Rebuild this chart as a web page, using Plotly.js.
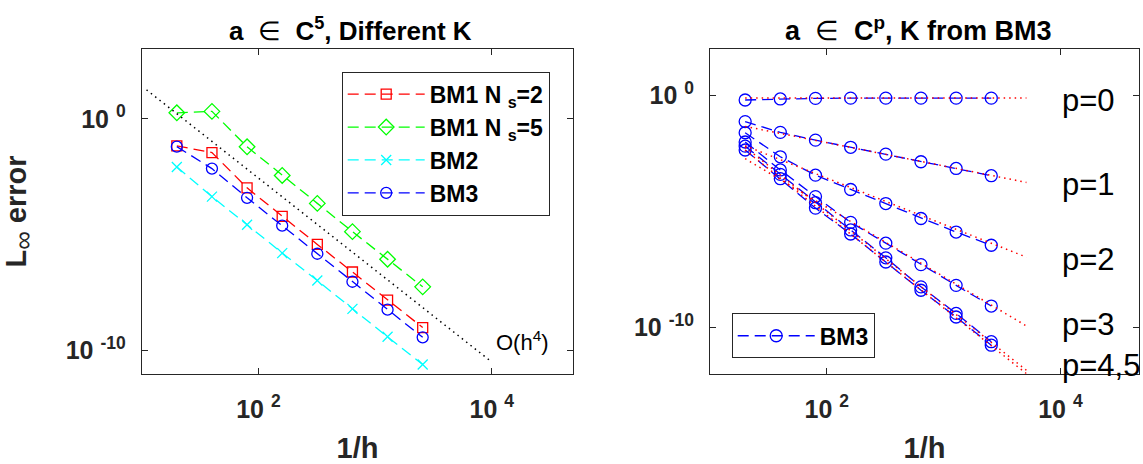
<!DOCTYPE html>
<html><head><meta charset="utf-8">
<script src="https://cdn.plot.ly/plotly-3.0.1.min.js"></script>
<style>html,body{margin:0;padding:0;background:#fff}#chart{width:1143px;height:464px}</style>
</head><body><div id="chart"></div>
<script>
// ---- data ----
const invH = [20, 40, 80, 160, 320, 640, 1280, 2560];

// left panel: a in C^5, different K
const bm1Ns2 = [6.8e-2, 3.5e-2, 1.05e-3, 6.2e-5, 3.8e-6, 2.45e-7, 1.5e-8, 9.8e-10];
const bm1Ns5 = [1.82, 2.09, 6.2e-2, 3.6e-3, 2.24e-4, 1.35e-5, 8.7e-7, 5.6e-8];
const bm2    = [8.3e-3, 4.4e-4, 2.7e-5, 1.6e-6, 1.05e-7, 6.3e-9, 3.9e-10, 2.5e-11];
const bm3    = [6.3e-2, 7.1e-3, 3.9e-4, 2.45e-5, 1.5e-6, 9.3e-8, 5.8e-9, 3.7e-10];
const refH4X = [11, 10000];
const refH4Y = [17.8, 3.2e-11];

// right panel: a in C^p, K from BM3
const bm3P0 = [0.65, 0.72, 0.76, 0.78, 0.78, 0.78, 0.78, 0.78];
const bm3P1 = [7.6e-2, 2.6e-2, 1.2e-2, 5.9e-3, 3.0e-3, 1.4e-3, 7.2e-4, 3.5e-4];
const bm3P2 = [2.5e-2, 2.3e-3, 3.7e-4, 8.9e-5, 2.2e-5, 5.0e-6, 1.3e-6, 3.5e-7];
const bm3P3 = [1.0e-2, 6.2e-4, 4.4e-5, 3.4e-6, 4.3e-7, 5.1e-8, 6.5e-9, 8.3e-10];
const bm3P4 = [6.6e-3, 4.0e-4, 2.4e-5, 1.6e-6, 1.0e-7, 5.6e-9, 4.0e-10, 2.4e-11];
const bm3P5 = [4.5e-3, 2.6e-4, 1.4e-5, 1.07e-6, 6.6e-8, 4.0e-9, 2.8e-10, 1.7e-11];
const rateX  = [20, 5120];
const rateP0 = [0.79, 0.79];
const rateP1 = [4.7e-2, 1.8e-4];
const rateP2 = [6.9e-3, 1.07e-7];
const rateP3 = [1.9e-3, 1.15e-10];
const rateP4 = [6.0e-3, 1.4e-12];
const rateP5 = [4.4e-3, 1.0e-12];
const pLabels = ['p=0', 'p=1', 'p=2', 'p=3', 'p=4,5'];

// ---- layout helpers (pixel geometry) ----
const W = 1143, H = 464;
const px = v => v / W, py = v => (H - v) / H;
const FONT = '"Liberation Sans", Arial, Helvetica, sans-serif';
const AX = '#262626';
const DASH = '11px,6px';
const DOT = '1.5px,4px';

const traces = [];
function series(x, y, color, symbol, size, name, xa, ya, legend, show) {
  traces.push({
    x: x, y: y, xaxis: xa, yaxis: ya, type: 'scatter', mode: 'lines+markers',
    name: name, legend: legend, showlegend: show,
    line: {color: color, width: 1.3, dash: DASH},
    marker: {symbol: symbol, size: size, color: color, line: {color: color, width: 1.3}}
  });
}
series(invH, bm1Ns2, '#ff0000', 'square-open', 10, 'BM1 N <sub>s</sub>=2', 'x', 'y', 'legend', true);
series(invH, bm1Ns5, '#00ff00', 'diamond-open', 12, 'BM1 N <sub>s</sub>=5', 'x', 'y', 'legend', true);
series(invH, bm2, '#00ffff', 'x-thin-open', 10, 'BM2', 'x', 'y', 'legend', true);
series(invH, bm3, '#0000ff', 'circle-open', 11, 'BM3', 'x', 'y', 'legend', true);
traces.push({x: refH4X, y: refH4Y, xaxis: 'x', yaxis: 'y', mode: 'lines', showlegend: false,
  line: {color: '#000000', width: 1.5, dash: DOT}, hoverinfo: 'skip'});

[bm3P0, bm3P1, bm3P2, bm3P3, bm3P4, bm3P5].forEach((s, i) =>
  series(invH, s, '#0000ff', 'circle-open', 12, 'BM3', 'x2', 'y2', 'legend2', i === 0));
[rateP0, rateP1, rateP2, rateP3, rateP4, rateP5].forEach(s =>
  traces.push({x: rateX, y: s, xaxis: 'x2', yaxis: 'y2', mode: 'lines', showlegend: false,
    line: {color: '#ff0000', width: 1.5, dash: DOT}, hoverinfo: 'skip'}));

function xax(domain, range) {
  return {
    type: 'log', domain: domain, range: range,
    tickvals: [100, 10000], ticktext: ['10 <sup>2</sup>', '10 <sup>4</sup>'],
    ticks: 'inside', ticklen: 6, tickcolor: AX, tickwidth: 1,
    showline: true, linecolor: AX, linewidth: 1, mirror: 'ticks',
    showgrid: false, zeroline: false, ticklabelstandoff: 13,
    tickfont: {family: FONT, size: 25, color: AX, weight: 'bold'},
    title: {text: '1/h', standoff: 17, font: {family: FONT, size: 29, color: AX, weight: 'bold'}}
  };
}
function yax(domain, range, anchor, title) {
  const a = {
    type: 'log', domain: domain, range: range, anchor: anchor,
    tickvals: [1, 1e-10], ticktext: ['10 <sup>0</sup>', '10 <sup>-10</sup>'],
    ticks: 'inside', ticklen: 6, tickcolor: AX, tickwidth: 1,
    showline: true, linecolor: AX, linewidth: 1, mirror: 'ticks',
    showgrid: false, zeroline: false, ticklabelstandoff: 10,
    tickfont: {family: FONT, size: 25, color: AX, weight: 'bold'}
  };
  if (title) a.title = {text: title, standoff: 40, font: {family: FONT, size: 29, color: AX, weight: 'bold'}};
  return a;
}
const yDom = [py(373.7), py(49.3)];
const x1 = xax([px(141.7), px(573.3)], [1, 4.699]);
const x2 = xax([px(710), px(1139)], [1, 1 + (1139 - 710) / 116.8]);
x2.anchor = 'y2'; x1.anchor = 'y';

const annotations = [
  {text: '<b>a</b>  ∈  <b>C<sup>5</sup>, Different K</b>', x: px(350), y: py(29), xref: 'paper', yref: 'paper',
   showarrow: false, xanchor: 'center', yanchor: 'middle', font: {family: FONT, size: 26, color: '#000'}},
  {text: '<b>a</b>  ∈  <b>C<sup>p</sup>, K from BM3</b>', x: px(918), y: py(29), xref: 'paper', yref: 'paper',
   showarrow: false, xanchor: 'center', yanchor: 'middle', font: {family: FONT, size: 27, color: '#000'}},
  {text: 'O(h<sup>4</sup>)', x: px(494), y: py(341), xref: 'paper', yref: 'paper',
   showarrow: false, xanchor: 'left', yanchor: 'middle', font: {family: FONT, size: 22, color: '#000'}}
];
const pY = [98.3, 182.5, 257.5, 322.5, 363.3];
pLabels.forEach((t, i) => annotations.push({
  text: t, x: px(1060), y: py(pY[i] + 2), xref: 'paper', yref: 'paper', showarrow: false,
  xanchor: 'left', yanchor: 'middle', font: {family: FONT, size: 31, color: '#000'}
}));

const legendBase = {
  xref: 'paper', yref: 'paper', xanchor: 'left', yanchor: 'top',
  bgcolor: '#ffffff', bordercolor: AX, borderwidth: 1, itemwidth: 77,
  font: {family: FONT, size: 23, color: '#000', weight: 'bold'}
};

const layout = {
  width: W, height: H, margin: {l: 0, r: 0, t: 0, b: 0},
  paper_bgcolor: '#ffffff', plot_bgcolor: '#ffffff',
  xaxis: x1,
  yaxis: yax(yDom, [-11, 3], 'x', 'L<sub><span style="font-weight:normal;font-size:26px">∞</span></sub> error'),
  xaxis2: x2, yaxis2: yax(yDom, [-12, 2], 'x2', null),
  legend: Object.assign({}, legendBase, {x: px(341.7), y: py(71.7)}),
  legend2: Object.assign({}, legendBase, {x: px(731.7), y: py(313.3)}),
  annotations: annotations,
  showlegend: true
};

Plotly.newPlot('chart', traces, layout, {displayModeBar: false, staticPlot: true});
</script></body></html>
